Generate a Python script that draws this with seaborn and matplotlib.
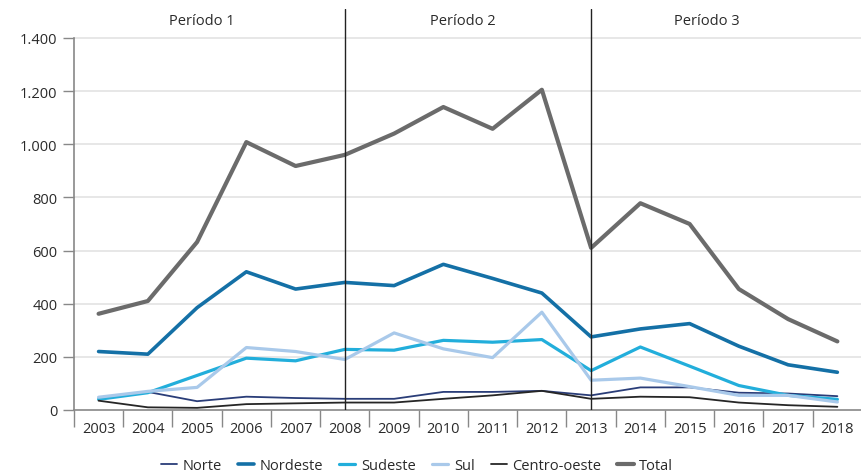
import numpy as np
import pandas as pd
import matplotlib
matplotlib.use("Agg")
import matplotlib.pyplot as plt
import seaborn as sns

years = [str(y) for y in range(2003, 2019)]
norte = [45, 68, 33, 50, 45, 42, 42, 68, 68, 72, 55, 85, 85, 65, 62, 52]
nordeste = [220, 210, 385, 520, 455, 480, 468, 548, 495, 440, 275, 305, 325, 240, 170, 142]
sudeste = [40, 65, 130, 195, 185, 228, 225, 262, 255, 265, 148, 237, 165, 92, 55, 40]
sul = [48, 70, 85, 235, 220, 190, 290, 230, 197, 368, 112, 120, 88, 55, 55, 30]
centro_oeste = [35, 10, 8, 22, 25, 28, 28, 42, 55, 72, 42, 50, 48, 28, 18, 12]
total = [362, 410, 632, 1008, 918, 960, 1040, 1140, 1058, 1205, 610, 778, 700, 455, 342, 258]

series_names = ["Norte", "Nordeste", "Sudeste", "Sul", "Centro-oeste", "Total"]
series_vals = [norte, nordeste, sudeste, sul, centro_oeste, total]
colors = ["#2a3d78", "#1470a6", "#22aedb", "#a9c9ea", "#262626", "#6b6b6b"]
widths = [1.3, 2.6, 2.3, 2.3, 1.3, 3.0]
period_labels = ["Período 1", "Período 2", "Período 3"]
period_x = [2.1, 7.4, 12.35]
dividers = ["2008", "2013"]

sns.set_theme(style="white")
plt.rcParams["font.family"] = ["Open Sans", "DejaVu Sans"]

fig = plt.figure(figsize=(8.62, 4.77), dpi=100)
ax = fig.add_axes([0.0858, 0.1384, 0.9142, 0.8413])

x = np.arange(len(years))
for name, vals, c, lw in zip(series_names, series_vals, colors, widths):
    sns.lineplot(x=x, y=vals, ax=ax, color=c, linewidth=lw, label=name, legend=False)

ax.set_xlim(-0.5, len(years) - 0.5)
ax.set_ylim(0, 1510)
ax.set_yticks(range(0, 1401, 200))
ax.set_yticklabels(["0", "200", "400", "600", "800", "1.000", "1.200", "1.400"], fontsize=10.5, color="#2a2a2a")
ax.set_xticks(x)
ax.set_xticklabels(years, fontsize=10.5, color="#2a2a2a")
ax.set_xticks(np.arange(-0.5, len(years) - 0.4, 1), minor=True)
ax.tick_params(axis="x", which="major", length=0, pad=8)
ax.tick_params(axis="x", which="minor", length=12, width=1, color="#888888", direction="out", bottom=True)
ax.tick_params(axis="y", which="major", length=8, width=1, color="#888888", left=True, pad=4)

for v in range(200, 1401, 200):
    ax.axhline(v, color="#e3e3e3", linewidth=1.2, zorder=0)

for sp in ["top", "right"]:
    ax.spines[sp].set_visible(False)
for sp in ["left", "bottom"]:
    ax.spines[sp].set_color("#888888")
    ax.spines[sp].set_linewidth(1.2)
ax.spines["left"].set_bounds(0, 1400)

for d in dividers:
    ax.axvline(years.index(d), ymin=0, ymax=1, color="#222222", linewidth=1.0, zorder=5)

for lab, px in zip(period_labels, period_x):
    ax.text(px, 1465, lab, ha="center", va="center", fontsize=10.5, color="#2a2a2a")

ax.set_xlabel("")
ax.set_ylabel("")

handles, labels = ax.get_legend_handles_labels()
fig.legend(handles, labels, loc="center", bbox_to_anchor=(417 / 862, 1 - 467 / 477), ncol=6,
           frameon=False, fontsize=10.5, handlelength=1.1, columnspacing=1.1, handletextpad=0.4,
           labelcolor="#2a2a2a")

fig.savefig("out.png", dpi=100)
